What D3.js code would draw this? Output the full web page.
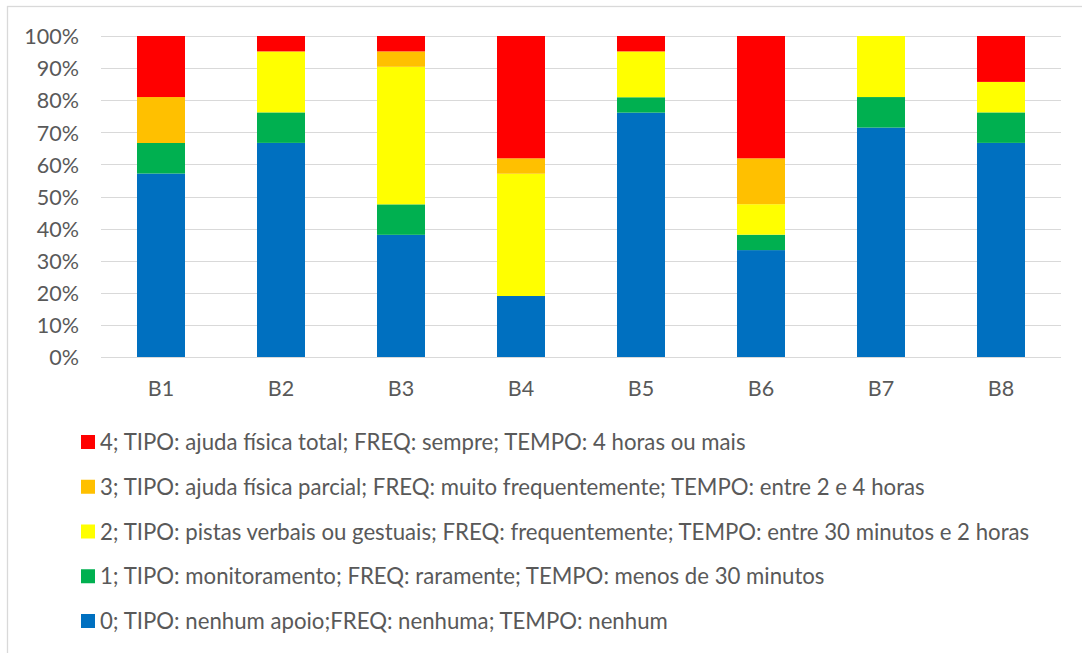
<!DOCTYPE html>
<html>
<head>
<meta charset="utf-8">
<script src="https://cdn.jsdelivr.net/npm/d3@7"></script>
<style>
  html, body { margin: 0; padding: 0; background: #fff; }
  svg { display: block; }
  text { font-family: Lato, "Open Sans", sans-serif; fill: #595959; }
</style>
</head>
<body>
<svg id="chart" width="1082" height="653"></svg>
<script>
// Categories (behaviours B1..B8)
const categories = ["B1", "B2", "B3", "B4", "B5", "B6", "B7", "B8"];

// Share of answers per support level, in percent, for each category
const level0 = [57.1, 66.7, 38.1, 19.0, 76.2, 33.3, 71.4, 66.7];
const level1 = [ 9.5,  9.5,  9.5,  0.0,  4.8,  4.8,  9.5,  9.5];
const level2 = [ 0.0, 19.0, 42.9, 38.1, 14.3,  9.5, 19.0,  9.5];
const level3 = [14.3,  0.0,  4.8,  4.8,  0.0, 14.3,  0.0,  0.0];
const level4 = [19.0,  4.8,  4.8, 38.1,  4.8, 38.1,  0.0, 14.3];

const seriesKeys = ["s0", "s1", "s2", "s3", "s4"];
const seriesValues = [level0, level1, level2, level3, level4];
const seriesColors = ["#0070C0", "#00B050", "#FFFF00", "#FFC000", "#FF0000"];
const seriesLabels = [
  "0; TIPO: nenhum apoio;FREQ: nenhuma; TEMPO: nenhum",
  "1; TIPO: monitoramento; FREQ: raramente; TEMPO: menos de 30 minutos",
  "2; TIPO: pistas verbais ou gestuais; FREQ: frequentemente; TEMPO: entre 30 minutos e 2 horas",
  "3; TIPO: ajuda física parcial; FREQ: muito frequentemente; TEMPO: entre 2 e 4 horas",
  "4; TIPO: ajuda física total; FREQ: sempre; TEMPO: 4 horas ou mais"
];
const yTicks = [0, 0.1, 0.2, 0.3, 0.4, 0.5, 0.6, 0.7, 0.8, 0.9, 1.0];

// Rows for d3.stack
const rows = categories.map((c, i) => {
  const r = { cat: c };
  seriesKeys.forEach((k, j) => { r[k] = seriesValues[j][i]; });
  return r;
});
const stacked = d3.stack().keys(seriesKeys).offset(d3.stackOffsetExpand)(rows);

const svg = d3.select("#chart");

// Outer chart frame
svg.append("rect")
  .attr("x", 7.5).attr("y", 6.5)
  .attr("width", 1100).attr("height", 700)
  .attr("fill", "none").attr("stroke", "#d9d9d9").attr("stroke-width", 1.3);

const plot = { left: 101, right: 1061, top: 36, bottom: 357 };

const x = d3.scaleBand().domain(categories)
  .range([plot.left, plot.right]).paddingInner(0.6).paddingOuter(0.3);
const y = d3.scaleLinear().domain([0, 1]).range([plot.bottom, plot.top]);

// Horizontal gridlines
svg.append("g").selectAll("line").data(yTicks).join("line")
  .attr("x1", plot.left).attr("x2", plot.right)
  .attr("y1", d => Math.round(y(d)) + 0.5).attr("y2", d => Math.round(y(d)) + 0.5)
  .attr("stroke", "#d9d9d9").attr("stroke-width", 1.2);

// Stacked bars
svg.append("g").selectAll("g").data(stacked).join("g")
  .attr("fill", (d, i) => seriesColors[i])
  .selectAll("rect").data(d => d).join("rect")
  .attr("x", d => x(d.data.cat))
  .attr("width", x.bandwidth())
  .attr("y", d => y(d[1]))
  .attr("height", d => Math.max(0, y(d[0]) - y(d[1])));

// Y axis labels
const yAxis = svg.append("g")
  .attr("transform", `translate(${plot.left - 22},0)`)
  .call(d3.axisLeft(y).tickValues(yTicks).tickFormat(d3.format(".0%")).tickSize(0).tickPadding(0));
yAxis.select(".domain").remove();
yAxis.selectAll("text").style("font-size", "21.5px").attr("fill", "#595959").attr("dy", "0.36em");

// X axis labels
const xAxis = svg.append("g")
  .attr("transform", `translate(0,${plot.bottom})`)
  .call(d3.axisBottom(x).tickSize(0).tickPadding(31));
xAxis.select(".domain").attr("stroke", "#d9d9d9").attr("stroke-width", 1.2)
  .attr("d", `M${plot.left},0.5H${plot.right}`);
xAxis.selectAll("text").style("font-size", "21.5px").attr("fill", "#595959").attr("dy", "0.36em");

// Legend, top to bottom from level 4 down to level 0
const legendOrder = [4, 3, 2, 1, 0];
const legend = svg.append("g");
const legendY = d3.scalePoint().domain(legendOrder).range([442, 621]);
const items = legend.selectAll("g").data(legendOrder).join("g")
  .attr("transform", d => `translate(81,${legendY(d)})`);
items.append("rect")
  .attr("x", 0).attr("y", -7).attr("width", 14).attr("height", 14)
  .attr("fill", d => seriesColors[d]);
items.append("text")
  .attr("x", 19).attr("dy", "0.36em")
  .style("font-size", "22.2px")
  .text(d => seriesLabels[d]);
</script>
</body>
</html>
